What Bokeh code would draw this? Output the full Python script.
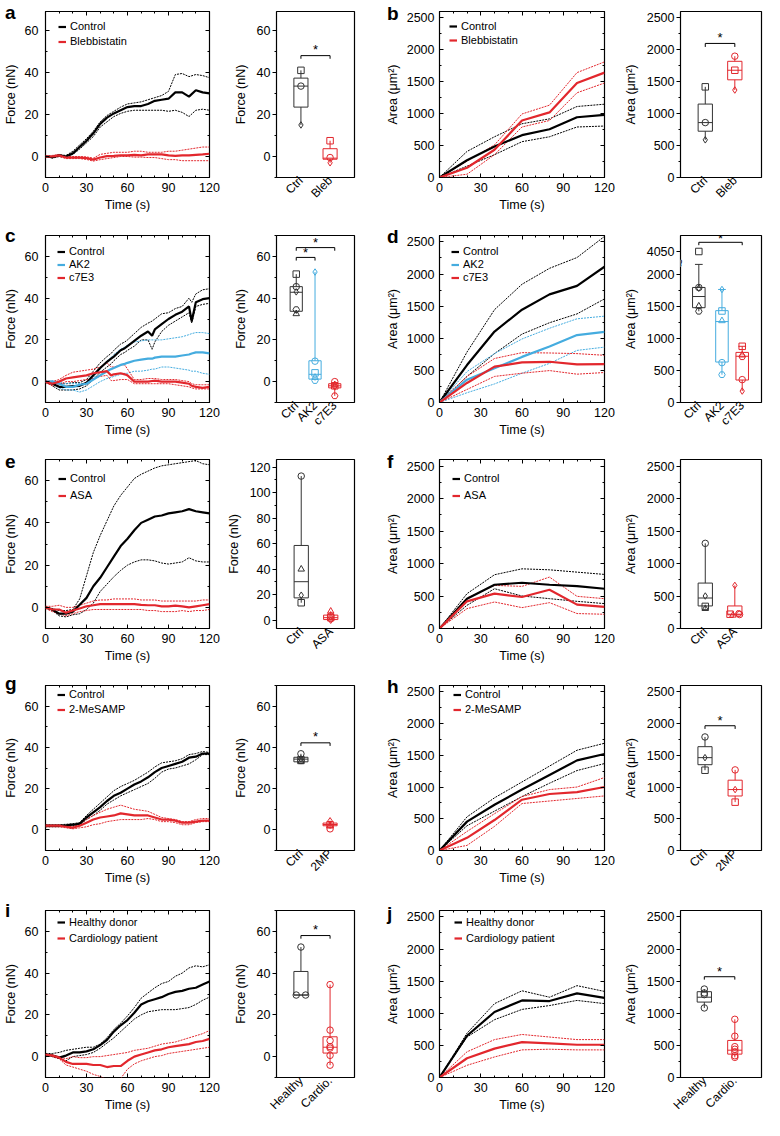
import math
from bokeh.plotting import figure
from bokeh.models import (Range1d, LinearAxis, SingleIntervalTicker, FixedTicker, Legend,
                          LegendItem, Label, CustomJSTickFormatter, ColumnDataSource, GridBox, Div)
from bokeh.core.properties import value, field
from bokeh.embed import file_html
from bokeh.resources import INLINE

FONT = "Liberation Sans"
BLACK = "#000000"
RED = "#E2272D"
BLUE = "#45ACDF"
GREY = "#333333"

# ---------------- force traces (nN) ----------------
t_force = [0, 5, 10, 15, 20, 25, 30, 35, 40, 45, 50, 55, 60, 65, 70, 75, 80, 85, 90, 95, 100, 105, 110, 115, 120]

a_ctrl_mean = [0, -0.3, 0.5, 0, 1.5, 4.5, 7.5, 11, 15.5, 18.5, 20.5, 22, 23.5, 24, 24, 25, 26.5, 27, 27.5, 30.5, 30.5, 28.5, 31.5, 30.5, 30]
a_ctrl_hi = [0, 0, 0.8, 0.5, 2.5, 5.5, 8.5, 12, 16.5, 19.5, 21.5, 23.5, 25, 25.5, 26, 27, 28, 29, 31, 39, 39.5, 38, 39, 38.5, 37.5]
a_ctrl_lo = [0, -0.8, 0, -0.5, 1, 3.5, 6.5, 9.5, 14, 16.5, 19, 20.5, 21.5, 22, 22, 22, 22, 22, 21.5, 22, 21, 19, 22, 22.5, 22]
a_bleb_mean = [0, 0, 0.5, -0.5, -0.5, -0.5, -0.8, -1.5, -0.5, 0.2, 0.3, 0.5, 0.5, 0.8, 0.5, 1, 1, 1, 0.5, 0.3, 0.5, 0.5, 0.8, 1, 1.3]
a_bleb_hi = [0.3, 0.5, 1, 0, 0, 0, -0.2, -0.8, 1, 1.5, 2, 2, 2, 2.5, 2.5, 2, 2, 2, 2.5, 2.5, 3, 3.5, 4, 4.5, 4.5]
a_bleb_lo = [-0.3, -0.5, 0, -1, -1, -1, -1.4, -2.2, -1.5, -1, -0.5, 0, 0, -0.3, -0.3, -0.5, -0.5, -1, -1.5, -1.5, -2, -2, -2, -2, -2]

t_c = [0, 5, 10, 15, 20, 25, 30, 35, 40, 45, 48, 50, 55, 58, 60, 65, 70, 75, 78, 80, 85, 90, 95, 100, 105, 107, 110, 115, 120]
c_ctrl_mean = [0, -1, -2.5, -2.5, -2.2, -2, -0.5, 3, 6.5, 9.5, 11, 12, 15, 16, 17, 19.5, 22, 24, 22, 25, 27.5, 30, 32, 33.5, 36, 29, 38, 39.5, 40]
c_ctrl_hi = [0, 0, -1, -1, -0.5, -0.5, 1, 5, 9, 12, 13.5, 15, 18, 19, 20, 23, 26, 28, 29, 30, 32.5, 33, 35, 36, 40, 38, 42, 44, 44.5]
c_ctrl_lo = [0, -2, -4, -4, -4, -3.5, -2, 1, 4.5, 7, 8.5, 10, 13, 14, 15, 17, 20, 20, 15.5, 19, 24, 27, 29, 31, 33, 28, 36, 37, 37.5]
c_ak2_mean = [0, 0, -1, -2.5, -2.5, -1.5, -1, 1, 3, 5, 6, 6.5, 8, 8.5, 9, 10, 10.5, 11, 11, 11.5, 12, 12, 12, 12.5, 13, 13.5, 14, 14, 13.5]
c_ak2_hi = [0, 0.5, 0, -1, -1, -1, -1, 2, 6, 10, 11.5, 13, 15.5, 16.5, 17.5, 19, 19.5, 20, 20, 20, 20, 20.5, 21, 21.5, 22.5, 23, 23.5, 23.5, 23]
c_ak2_lo = [0, -1, -3, -4, -4, -5, -4, -2, 0, 1.5, 2, 2.5, 3.5, 4, 4, 5, 5, 5.5, 6, 6, 7, 7, 6.5, 6, 5.5, 5, 5, 4, 3.5]
c_c7e3_mean = [0, -1, 0, 1.5, 2, 2.5, 3, 4, 4.5, 5, 3, 3.5, 4, 3.5, 3, 0, 0, 0, 0.3, 0.5, 0, 0, 0, -0.5, -1, -2, -2.5, -3, -2.5]
c_c7e3_hi = [0.5, 0, 1, 3, 4.5, 5, 5.5, 6, 7, 9, 7, 7, 8, 8, 6, 1, 1, 1.5, 1.5, 1.5, 1, 1, 1, 0.5, 0, -1, -1.5, -1.5, -1.5]
c_c7e3_lo = [-0.5, -2, -1.5, 0, 0, 0.5, 1, 1.5, 2.5, 3, 0.5, 0.5, 1, 1, 1, -1, -1, -1, -1, -1, -1, -1, -1.5, -2, -2.5, -3, -3.5, -3.5, -3.5]

e_ctrl_mean = [0, -1, -3, -3, -2, 1.2, 4.5, 10, 14, 19, 24, 29, 32.5, 36.5, 40, 41.5, 43, 43.5, 44.5, 45, 45.5, 46.5, 45.5, 45, 44.5]
e_ctrl_hi = [0, -0.5, -1.5, -1.5, -1, 4, 15, 26, 34, 41, 48, 53, 57, 61, 63, 64.5, 66, 67, 67.5, 68, 68.5, 69, 69.5, 68, 67.5]
e_ctrl_lo = [0, -1.5, -4, -4.5, -3.5, -3, -1, 2, 7.5, 11, 14.5, 17.5, 20, 21.5, 22.5, 22.5, 22, 21, 20.5, 21, 21.5, 23.5, 22, 21.5, 21.5]
e_asa_mean = [0, -1, -1, -2.5, -1.5, -0.5, 0.5, 1, 1.5, 1.5, 1.5, 1.5, 1.5, 1.5, 1.2, 1, 1, 0.5, 0.5, 0.8, 0.5, 0, 0.5, 1, 1.5]
e_asa_hi = [0.5, 0.5, 1, 0, 0, 1, 2, 3, 3.5, 3.5, 4, 4, 4, 4, 3.5, 3.5, 3.5, 3, 3, 3, 3, 3, 3, 3.5, 3.5]
e_asa_lo = [-0.5, -2, -3, -4, -3, -2, -1.5, -1, -1, -1, -1, -1, -1, -1, -1, -1.5, -1.5, -2, -2, -2, -1.5, -2, -1.5, -1.5, -1]

g_ctrl_mean = [2, 2, 2, 2.2, 2.5, 3, 6, 8.5, 11, 14, 16.5, 18, 20, 22, 23.5, 25.5, 28, 30, 31, 32, 33, 35, 35.5, 37, 37]
g_ctrl_hi = [2.5, 2.5, 2.5, 2.7, 3, 3.5, 7, 10, 13, 16, 19, 21, 22.5, 24, 26, 28, 30.5, 32.5, 33, 33.5, 34.5, 36.5, 37, 38, 37.5]
g_ctrl_lo = [1.5, 1.5, 1.5, 1.7, 2, 2.5, 5, 7, 9.5, 12.5, 14.5, 16.5, 18, 19.5, 21, 22.5, 25, 28, 29.5, 30, 31, 32, 34, 36.5, 36.5]
g_2mp_mean = [2, 2, 2, 1.5, 1, 2, 3.5, 5, 6, 6.5, 7, 8, 7.5, 7, 7, 7, 6, 5, 5, 4.5, 3.5, 3.5, 4, 4.5, 4.5]
g_2mp_hi = [2.5, 2.5, 2.5, 2, 1.5, 3, 5, 7, 8.5, 10, 11, 12, 11, 10, 9.5, 9, 7.5, 6, 5.5, 5, 4, 4, 5, 5.5, 5.5]
g_2mp_lo = [1.5, 1.5, 1.5, 1, 0.5, 1, 1.5, 2.5, 3, 4, 4.5, 5, 5, 5, 5, 5.5, 5, 4, 4, 3.5, 2.5, 2.5, 3.5, 4, 4]

i_hd_mean = [1, 0.5, -0.5, 0.5, 2, 2, 2.5, 3.5, 5.5, 8, 12, 15, 17.5, 21, 25, 26.5, 27.5, 28.5, 30, 31, 31.5, 32.5, 33, 34.5, 36]
i_hd_hi = [1.5, 1.5, 2, 3, 3.5, 4, 4.5, 4.5, 6, 9, 13, 16, 19.5, 23.5, 28, 30.5, 33, 35, 36, 38.5, 40, 42.5, 43.5, 43, 44]
i_hd_lo = [1, 0, -1, -2, 0, 0.5, 1, 2, 4, 6.5, 9, 12, 15, 18, 20, 21.5, 22, 22.5, 22.5, 22.5, 23, 23.5, 25, 27, 28.5]
i_cp_mean = [1, 0.5, -0.5, -2.5, -3.5, -3.5, -3.5, -4, -4, -5, -4.5, -4.5, -2, 0, 1, 2, 3, 3.5, 4.5, 5, 5.5, 6, 7, 7.5, 8.5]
i_cp_hi = [1, 1, 0, -1, 0, -0.5, -0.5, 0, 0, 0.5, 1, 1.5, 2, 3, 3.5, 4, 5, 6, 6.5, 7, 8, 9, 10, 11, 12.5]
i_cp_lo = [1, 0, -1, -4, -5, -6, -7, -8.5, -9.5, -11, -11, -10.5, -6, -3.5, -2, -1, 0, 0.5, 1.5, 2, 2.5, 3, 3.5, 4, 4.5]

# ---------------- area traces (um^2) ----------------
t_area = [0, 20, 40, 60, 80, 100, 120]
b_ctrl_mean = [0, 270, 485, 663, 755, 944, 980]
b_ctrl_hi = [0, 408, 638, 842, 918, 1112, 1148]
b_ctrl_lo = [0, 178, 357, 561, 638, 791, 806]
b_bleb_mean = [0, 153, 434, 893, 1020, 1480, 1643]
b_bleb_hi = [0, 255, 510, 995, 1133, 1643, 1811]
b_bleb_lo = [0, 51, 357, 791, 893, 1327, 1480]

d_ctrl_mean = [0, 583, 1105, 1445, 1683, 1815, 2114]
d_ctrl_hi = [0, 786, 1445, 1841, 2089, 2257, 2586]
d_ctrl_lo = [0, 406, 761, 1065, 1242, 1379, 1613]
d_ak2_mean = [0, 355, 532, 710, 872, 1050, 1100]
d_ak2_hi = [0, 482, 761, 989, 1156, 1303, 1344]
d_ak2_lo = [0, 152, 289, 456, 609, 811, 862]
d_c7e3_mean = [0, 304, 558, 624, 634, 593, 598]
d_c7e3_hi = [0, 406, 685, 776, 771, 761, 735]
d_c7e3_lo = [0, 203, 406, 456, 497, 441, 467]

f_ctrl_mean = [0, 459, 673, 704, 673, 653, 612]
f_ctrl_hi = [0, 536, 827, 918, 903, 867, 832]
f_ctrl_lo = [0, 357, 612, 500, 459, 418, 383]
f_asa_mean = [0, 418, 536, 485, 597, 367, 332]
f_asa_hi = [0, 469, 663, 648, 791, 495, 459]
f_asa_lo = [0, 306, 408, 321, 398, 230, 219]

h_ctrl_mean = [0, 455, 720, 960, 1190, 1420, 1520]
h_ctrl_hi = [0, 530, 830, 1080, 1330, 1580, 1690]
h_ctrl_lo = [0, 390, 620, 850, 1060, 1260, 1370]
h_2mp_mean = [0, 200, 480, 800, 890, 920, 1000]
h_2mp_hi = [0, 300, 580, 850, 960, 1000, 1150]
h_2mp_lo = [0, 80, 380, 740, 780, 820, 860]

j_hd_mean = [0, 650, 1020, 1200, 1190, 1310, 1240]
j_hd_hi = [0, 690, 1150, 1350, 1250, 1430, 1340]
j_hd_lo = [0, 630, 900, 1060, 1120, 1200, 1150]
j_cp_mean = [0, 300, 450, 550, 530, 510, 510]
j_cp_hi = [0, 400, 590, 670, 630, 590, 590]
j_cp_lo = [0, 190, 320, 430, 440, 430, 430]

# ---------------- box plots: points and [whisker low, q1, median, q3, whisker high] ----------------
a_box_names = ["Ctrl", "Bleb"]
a_ctrl_pts = [41, 33.5, 15]
a_ctrl_stats = [15, 23.5, 33.5, 37.3, 41]
a_bleb_pts = [7.5, -0.5, -3]
a_bleb_stats = [-3, -1.3, -0.8, 3.7, 7.5]

b_box_names = ["Ctrl", "Bleb"]
b_ctrl_pts = [1420, 860, 590]
b_ctrl_stats = [590, 725, 860, 1150, 1420]
b_bleb_pts = [1900, 1680, 1370]
b_bleb_stats = [1370, 1530, 1680, 1820, 1900]

c_box_names = ["Ctrl", "AK2", "c7E3"]
c_ctrl_pts = [51.5, 45.5, 43, 34.5, 32.5]
c_ctrl_stats = [32.5, 33.7, 42.8, 45.5, 51.5]
c_ak2_pts = [52.5, 9.8, 4.2, 2, 0.5]
c_ak2_stats = [0.5, 1.2, 3.5, 10, 52.5]
c_c7e3_pts = [0, -1.5, -2, -2.5, -6.8]
c_c7e3_stats = [-6.8, -3, -2, -1, 0]

d_box_names = ["Ctrl", "AK2", "c7E3"]
d_ctrl_pts = [4050, 1790, 1780, 1500, 1420]
d_ctrl_stats = [1420, 1476, 1650, 1791, 2150]
d_ak2_pts = [1760, 1425, 1272, 621, 433]
d_ak2_stats = [433, 630, 1260, 1430, 1760]
d_c7e3_pts = [875, 738, 712, 356, 178]
d_c7e3_stats = [178, 350, 720, 780, 875]

e_box_names = ["Ctrl", "ASA"]
e_ctrl_pts = [113, 40, 19.6, 13.7]
e_ctrl_stats = [13.7, 17.5, 30.2, 58.6, 113]
e_asa_pts = [7, 3.5, 2, 1, 0]
e_asa_stats = [0, 0.5, 2, 4, 7]

f_box_names = ["Ctrl", "ASA"]
f_ctrl_pts = [1310, 500, 340, 306]
f_ctrl_stats = [306, 347, 469, 699, 1310]
f_asa_pts = [663, 230, 220, 215, 204]
f_asa_stats = [204, 210, 220, 347, 663]

g_box_names = ["Ctrl", "2MP"]
g_ctrl_pts = [36.9, 34.5, 34, 33.5, 33]
g_ctrl_stats = [33, 33, 34.3, 35.2, 36.9]
g_2mp_pts = [4.4, 2.5, 2, 0.5]
g_2mp_stats = [0.5, 2, 2.6, 3.3, 4.4]

h_box_names = ["Ctrl", "2MP"]
h_ctrl_pts = [1789, 1463, 1265]
h_ctrl_stats = [1265, 1352, 1463, 1636, 1789]
h_2mp_pts = [1270, 960, 762]
h_2mp_stats = [762, 859, 960, 1108, 1270]

i_box_names = ["Healthy", "Cardio."]
i_hd_pts = [52.5, 29.5, 29.5]
i_hd_stats = [29.5, 29.5, 29.5, 40.8, 52.5]
i_cp_pts = [34.5, 12.7, 7.7, 4.8, 4.1, 0.6, -4.1]
i_cp_stats = [-4.1, 1.7, 4.5, 9.5, 34.5]

j_box_names = ["Healthy", "Cardio."]
j_hd_pts = [1377, 1316, 1290, 1083]
j_hd_stats = [1083, 1174, 1250, 1336, 1377]
j_cp_pts = [906, 643, 480, 440, 400, 339, 314]
j_cp_stats = [314, 364, 425, 577, 906]

panel_letters = ["a", "b", "c", "d", "e", "f", "g", "h", "i", "j"]

# broken axis of panel d box plot (display position of the 4050 tick and of the break)
D_BREAK = 2168
D_4050 = 2351


def d_disp(v):
    return v if v <= D_BREAK else D_4050 + (v - 4050)


# ---------------- layout helpers (reference pixel grid scaled to the page) ----------------
SXF = 764 / 780
SYF = 1120 / 1136
COLS = [0, 228, 390, 632, 780]
ROWS = [0, 225, 450, 675, 900, 1136]
ROW_TOP = [11, 238, 466, 695, 923]
ROW_BOT = [180, 408, 637, 866, 1094]
# baseline (reference px) of the panel letters: left column, right column
LETTER_BASE = [(14, 15), (240, 241), (470, 470), (695, 698), (925, 928)]


def X(v):
    return int(round(v * SXF))


def Y(v):
    return int(round(v * SYF))


def base_fig(col, rw, fx0, fx1):
    y0, y1 = ROW_TOP[rw], ROW_BOT[rw]
    W = X(COLS[col + 1]) - X(COLS[col])
    H = Y(ROWS[rw + 1]) - Y(ROWS[rw])
    p = figure(width=W, height=H, output_backend="svg", toolbar_location=None,
               x_axis_type=None, y_axis_type=None,
               min_border_left=X(fx0) - X(COLS[col]), min_border_right=X(COLS[col + 1]) - X(fx1),
               min_border_top=Y(y0) - Y(ROWS[rw]), min_border_bottom=Y(ROWS[rw + 1]) - Y(y1))
    p.outline_line_color = "black"
    p.outline_line_width = 1.2
    p.background_fill_color = "white"
    p.border_fill_color = "white"
    fw = X(fx1) - X(fx0)
    fh = Y(y1) - Y(y0)
    return p, fw, fh


def style_axis(ax, inward, standoff, lab_standoff):
    ax.axis_line_color = None
    ax.major_tick_line_color = "black"
    ax.minor_tick_line_color = "black"
    ax.major_tick_line_width = 1
    ax.minor_tick_line_width = 1
    if inward:
        ax.major_tick_in, ax.major_tick_out, ax.minor_tick_in, ax.minor_tick_out = 4, 0, 2, 0
    else:
        ax.major_tick_in, ax.major_tick_out, ax.minor_tick_in, ax.minor_tick_out = 0, 4, 0, 2
    ax.major_label_text_font = FONT
    ax.major_label_text_font_size = "12.5px"
    ax.major_label_text_color = "black"
    ax.major_label_standoff = standoff
    ax.axis_label_text_font = FONT
    ax.axis_label_text_font_size = "12.5px"
    ax.axis_label_text_font_style = "normal"
    ax.axis_label_text_color = "black"
    ax.axis_label_standoff = lab_standoff


def mirror_axis(ticker):
    m = LinearAxis(ticker=ticker, formatter=CustomJSTickFormatter(code="return ''"))
    style_axis(m, True, 0, 0)
    m.major_label_text_font_size = "0px"
    return m


def line_panel(col, rw, fx, ylim, yint, ylabel, series, leg):
    p, fw, fh = base_fig(col, rw, fx[0], fx[1])
    p.x_range = Range1d(0, 120)
    p.y_range = Range1d(*ylim)
    xa = LinearAxis(ticker=SingleIntervalTicker(interval=30, num_minor_ticks=3), axis_label="Time (s)")
    style_axis(xa, True, 5, 3)
    ya = LinearAxis(ticker=SingleIntervalTicker(interval=yint, num_minor_ticks=2), axis_label=ylabel)
    style_axis(ya, True, 7 if yint < 100 else 5, 4)
    p.add_layout(xa, "below")
    p.add_layout(ya, "left")
    p.add_layout(mirror_axis(SingleIntervalTicker(interval=30, num_minor_ticks=3)), "above")
    p.add_layout(mirror_axis(SingleIntervalTicker(interval=yint, num_minor_ticks=2)), "right")
    for (lab, color, t, mean, hi, lo) in series:
        p.line(t, hi, line_color=color, line_width=1, line_dash="2 1")
        p.line(t, lo, line_color=color, line_width=1, line_dash="2 1")
    items = []
    for (lab, color, t, mean, hi, lo) in series:
        r = p.line(t, mean, line_color=color, line_width=2.2)
        items.append(LegendItem(label=lab, renderers=[r]))
    gx, c_abs, lh = leg
    n = len(series)
    lx = X(fx[0] + gx) - X(fx[0])
    top = Y(c_abs) - Y(ROW_TOP[rw]) - lh / 2
    ly = fh - top - n * lh
    lg = Legend(items=items, location=(lx, ly), padding=0, margin=0, spacing=0,
                label_height=lh, glyph_height=lh, glyph_width=8, label_standoff=4,
                label_text_font=FONT, label_text_font_size="11px", label_text_color="black",
                border_line_color=None, background_fill_alpha=0)
    p.add_layout(lg)
    return p


def box_panel(col, rw, fx, ylim, yticker, ylabel, groups, brackets, drop, hw, cap=0, overrides=None):
    p, fw, fh = base_fig(col, rw, fx[0], fx[1])
    x0 = fx[0]
    p.x_range = Range1d(0, fx[1] - fx[0])
    p.y_range = Range1d(*ylim)
    ya = LinearAxis(ticker=yticker, axis_label=ylabel)
    style_axis(ya, False, 2, 6)
    if overrides:
        ya.major_label_overrides = overrides
    p.add_layout(ya, "left")
    ticks = [g[1] - x0 for g in groups]
    xa = LinearAxis(ticker=FixedTicker(ticks=ticks),
                    major_label_overrides={tk: g[0] for tk, g in zip(ticks, groups)},
                    major_label_orientation=math.pi / 4)
    style_axis(xa, False, 1, 0)
    xa.major_label_text_font_size = "12px"
    xa.major_tick_line_color = None
    xa.minor_tick_line_color = None
    xa.major_tick_out = 0
    xa.minor_tick_out = 0
    p.add_layout(xa, "below")
    for (name, cx, color, pts, marks, jit, stats) in groups:
        c = cx - x0
        wlo, q1, med, q3, whi = stats
        p.segment(x0=[c, c], y0=[wlo, q3], x1=[c, c], y1=[q1, whi], line_color=color, line_width=1)
        if cap:
            p.segment(x0=[c - cap], y0=[whi], x1=[c + cap], y1=[whi], line_color=color, line_width=1)
        p.quad(left=[c - hw], right=[c + hw], bottom=[q1], top=[q3], fill_color=None,
               line_color=color, line_width=1)
        p.segment(x0=[c - hw], y0=[med], x1=[c + hw], y1=[med], line_color=color, line_width=1)
        src = ColumnDataSource(dict(x=[c + j for j in jit], y=pts, m=marks))
        p.scatter(x="x", y="y", marker=field("m"), source=src, size=6.5, fill_color=None,
                  line_color=color, line_width=1)
    for (gi, gj, yb, ys) in brackets:
        xa_ = groups[gi][1] - x0
        xb_ = groups[gj][1] - x0
        p.line([xa_, xa_, xb_, xb_], [yb - drop, yb, yb, yb - drop], line_color="black", line_width=1)
        p.text(x=[(xa_ + xb_) / 2], y=[ys], text=["*"], text_font=value(FONT),
               text_font_size=value("13px"), text_align="center", text_baseline="middle",
               text_color="black")
    return p


def letter_div(letter, rw, base):
    # 19px bold Liberation Sans with 19px line-height: baseline sits ~16px below the box top
    dy = (Y(base) - Y(ROWS[rw])) - 16
    html = ('<div style="position:relative;left:0px;top:%dpx;font-family:\'Liberation Sans\';'
            'font-size:19px;font-weight:bold;line-height:19px;color:#000;">%s</div>') % (dy, letter)
    return Div(text=html, width=16, height=30)


FORCE = "Force (nN)"
AREA = "Area (\u03bcm\u00b2)"
FLIM = (-10, 70)
ALIM = (0, 2600)


def ftick():
    return SingleIntervalTicker(interval=20, num_minor_ticks=2)


def atick():
    return SingleIntervalTicker(interval=500, num_minor_ticks=2)


# ---------------- row 1 ----------------
pa = line_panel(0, 0, (42, 213), (-10, 69), 20, FORCE,
                [("Control", BLACK, t_force, a_ctrl_mean, a_ctrl_hi, a_ctrl_lo),
                 ("Blebbistatin", RED, t_force, a_bleb_mean, a_bleb_hi, a_bleb_lo)],
                (13, 26, 15))
pa_box = box_panel(1, 0, (279, 362), (-10, 69), ftick(), FORCE,
                   [(a_box_names[0], 305, GREY, a_ctrl_pts, ["square", "circle", "diamond"], [0, 0, 0], a_ctrl_stats),
                    (a_box_names[1], 336, RED, a_bleb_pts, ["square", "circle", "diamond"], [0, 0, 0], a_bleb_stats)],
                   [(0, 1, 48, 51)], 1.5, 7.5)
pb = line_panel(2, 0, (447, 617), ALIM, 500, AREA,
                [("Control", BLACK, t_area, b_ctrl_mean, b_ctrl_hi, b_ctrl_lo),
                 ("Blebbistatin", RED, t_area, b_bleb_mean, b_bleb_hi, b_bleb_lo)],
                (10, 26, 14))
pb_box = box_panel(3, 0, (694, 779), ALIM, atick(), AREA,
                   [(b_box_names[0], 720, GREY, b_ctrl_pts, ["square", "circle", "diamond"], [0, 0, 0], b_ctrl_stats),
                    (b_box_names[1], 751, RED, b_bleb_pts, ["circle", "square", "diamond"], [0, 0, 0], b_bleb_stats)],
                   [(0, 1, 2100, 2190)], 55, 7.5)

# ---------------- row 2 ----------------
pc = line_panel(0, 1, (42, 213), FLIM, 20, FORCE,
                [("Control", BLACK, t_c, c_ctrl_mean, c_ctrl_hi, c_ctrl_lo),
                 ("AK2", BLUE, t_c, c_ak2_mean, c_ak2_hi, c_ak2_lo),
                 ("c7E3", RED, t_c, c_c7e3_mean, c_c7e3_hi, c_c7e3_lo)],
                (12, 255, 13))
pc_box = box_panel(1, 1, (279, 362), FLIM, ftick(), FORCE,
                   [(c_box_names[0], 300, GREY, c_ctrl_pts, ["square", "circle", "diamond", "hex", "triangle"], [0] * 5, c_ctrl_stats),
                    (c_box_names[1], 320, BLUE, c_ak2_pts, ["diamond", "circle", "square", "triangle", "hex"], [0] * 5, c_ak2_stats),
                    (c_box_names[2], 341, RED, c_c7e3_pts, ["circle", "triangle", "square", "diamond", "hex"], [0] * 5, c_c7e3_stats)],
                   [(0, 2, 64.2, 66.8), (0, 1, 59.5, 61.8)], 1.5, 6.5)
pd_ = line_panel(2, 1, (447, 617), ALIM, 500, AREA,
                 [("Control", BLACK, t_area, d_ctrl_mean, d_ctrl_hi, d_ctrl_lo),
                  ("AK2", BLUE, t_area, d_ak2_mean, d_ak2_hi, d_ak2_lo),
                  ("c7E3", RED, t_area, d_c7e3_mean, d_c7e3_hi, d_c7e3_lo)],
                 (12, 255, 13))
d_ticker = FixedTicker(ticks=[0, 500, 1000, 1500, 2000, D_4050], minor_ticks=[250, 750, 1250, 1750])
pd_box = box_panel(3, 1, (693, 777), ALIM, d_ticker, AREA,
                   [(d_box_names[0], 712, GREY, [d_disp(v) for v in d_ctrl_pts], ["square", "circle", "diamond", "triangle", "hex"], [0] * 5, d_ctrl_stats),
                    (d_box_names[1], 736, BLUE, d_ak2_pts, ["diamond", "square", "triangle", "circle", "hex"], [0] * 5, d_ak2_stats),
                    (d_box_names[2], 757, RED, d_c7e3_pts, ["square", "triangle", "hex", "circle", "diamond"], [0] * 5, d_c7e3_stats)],
                   [(0, 2, 2494, 2550)], 45, 6.5, cap=4, overrides={D_4050: "4050"})
pd_box.add_layout(Label(x=-1, y=D_BREAK, x_units="screen", y_units="data", text="\u2248",
                        text_font=FONT, text_font_size="13px", text_color="black",
                        text_align="center", text_baseline="middle", angle=math.pi / 2,
                        background_fill_color="white"))

# ---------------- row 3 ----------------
pe = line_panel(0, 2, (42, 213), FLIM, 20, FORCE,
                [("Control", BLACK, t_force, e_ctrl_mean, e_ctrl_hi, e_ctrl_lo),
                 ("ASA", RED, t_force, e_asa_mean, e_asa_hi, e_asa_lo)],
                (13, 485, 17))
pe_box = box_panel(1, 2, (279, 361), (-6.5, 126), ftick(), FORCE,
                   [(e_box_names[0], 305, GREY, e_ctrl_pts, ["circle", "triangle", "diamond", "square"], [0] * 4, e_ctrl_stats),
                    (e_box_names[1], 336, RED, e_asa_pts, ["triangle", "circle", "square", "hex", "diamond"], [0] * 5, e_asa_stats)],
                   [], 1.5, 7.5)
pf = line_panel(2, 2, (447, 617), ALIM, 500, AREA,
                [("Control", BLACK, t_area, f_ctrl_mean, f_ctrl_hi, f_ctrl_lo),
                 ("ASA", RED, t_area, f_asa_mean, f_asa_hi, f_asa_lo)],
                (13, 485, 17))
pf_box = box_panel(3, 2, (694, 779), ALIM, atick(), AREA,
                   [(f_box_names[0], 720, GREY, f_ctrl_pts, ["circle", "diamond", "square", "triangle"], [0] * 4, f_ctrl_stats),
                    (f_box_names[1], 751, RED, f_asa_pts, ["diamond", "hex", "square", "circle", "triangle"], [0, 4, -5, 5, -2], f_asa_stats)],
                   [], 50, 7.5)

# ---------------- row 4 ----------------
pg = line_panel(0, 3, (42, 213), FLIM, 20, FORCE,
                [("Control", BLACK, t_force, g_ctrl_mean, g_ctrl_hi, g_ctrl_lo),
                 ("2-MeSAMP", RED, t_force, g_2mp_mean, g_2mp_hi, g_2mp_lo)],
                (12, 708, 15))
pg_box = box_panel(1, 3, (279, 362), FLIM, ftick(), FORCE,
                   [(g_box_names[0], 305, GREY, g_ctrl_pts, ["circle", "diamond", "square", "hex", "triangle"], [0] * 5, g_ctrl_stats),
                    (g_box_names[1], 336, RED, g_2mp_pts, ["diamond", "square", "triangle", "circle"], [0] * 4, g_2mp_stats)],
                   [(0, 1, 42.2, 45.3)], 1.5, 7.5)
ph = line_panel(2, 3, (447, 617), ALIM, 500, AREA,
                [("Control", BLACK, t_area, h_ctrl_mean, h_ctrl_hi, h_ctrl_lo),
                 ("2-MeSAMP", RED, t_area, h_2mp_mean, h_2mp_hi, h_2mp_lo)],
                (14, 708, 15))
ph_box = box_panel(3, 3, (693, 779), ALIM, atick(), AREA,
                   [(h_box_names[0], 719, GREY, h_ctrl_pts, ["circle", "diamond", "square"], [0] * 3, h_ctrl_stats),
                    (h_box_names[1], 751, RED, h_2mp_pts, ["circle", "diamond", "square"], [0] * 3, h_2mp_stats)],
                   [(0, 1, 1966, 2053)], 50, 7.5)

# ---------------- row 5 ----------------
pi_ = line_panel(0, 4, (42, 213), FLIM, 20, FORCE,
                 [("Healthy donor", BLACK, t_force, i_hd_mean, i_hd_hi, i_hd_lo),
                  ("Cardiology patient", RED, t_force, i_cp_mean, i_cp_hi, i_cp_lo)],
                 (12, 937, 16))
pi_box = box_panel(1, 4, (279, 362), FLIM, ftick(), FORCE,
                   [(i_box_names[0], 305, GREY, i_hd_pts, ["circle"] * 3, [0, -5, 5], i_hd_stats),
                    (i_box_names[1], 336, RED, i_cp_pts, ["circle"] * 7, [0] * 7, i_cp_stats)],
                   [(0, 1, 58, 60.8)], 1.5, 7.5)
pj = line_panel(2, 4, (447, 617), ALIM, 500, AREA,
                [("Healthy donor", BLACK, t_area, j_hd_mean, j_hd_hi, j_hd_lo),
                 ("Cardiology patient", RED, t_area, j_cp_mean, j_cp_hi, j_cp_lo)],
                (15, 937, 16))
pj_box = box_panel(3, 4, (694, 779), ALIM, atick(), AREA,
                   [(j_box_names[0], 719, GREY, j_hd_pts, ["circle"] * 4, [0, 0, 0, 0], j_hd_stats),
                    (j_box_names[1], 751, RED, j_cp_pts, ["circle"] * 7, [0] * 7, j_cp_stats)],
                   [(0, 1, 1569, 1655)], 45, 7.5)

grid_rows = [
    [pa, pa_box, pb, pb_box],
    [pc, pc_box, pd_, pd_box],
    [pe, pe_box, pf, pf_box],
    [pg, pg_box, ph, ph_box],
    [pi_, pi_box, pj, pj_box],
]
children = []
for r, figs in enumerate(grid_rows):
    for c, f in enumerate(figs):
        children.append((f, r, c))
for r in range(5):
    children.append((letter_div(panel_letters[2 * r], r, LETTER_BASE[r][0]), r, 0))
    children.append((letter_div(panel_letters[2 * r + 1], r, LETTER_BASE[r][1]), r, 2))

layout = GridBox(children=children, spacing=0)

open("out.html", "w").write(file_html(layout, INLINE))
